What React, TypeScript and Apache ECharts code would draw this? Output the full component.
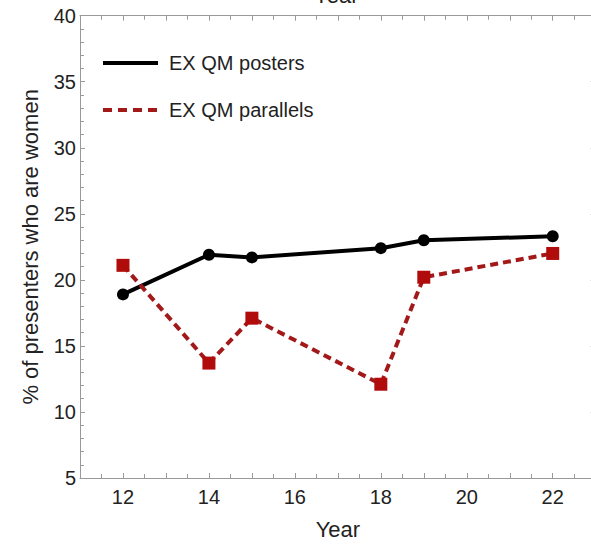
import React, { useEffect, useRef } from "react";
import * as echarts from "echarts";

const years = [12, 14, 15, 18, 19, 22];
const postersPct = [18.9, 21.9, 21.7, 22.4, 23.0, 23.3];
const parallelsPct = [21.1, 13.7, 17.1, 12.1, 20.2, 22.0];
const seriesNames = ["EX QM posters", "EX QM parallels"];
const xLabelYears = [12, 14, 16, 18, 20, 22];
const yTicks = [5, 10, 15, 20, 25, 30, 35, 40];

const AXIS_COLOR = "#9a9a9a";
const TEXT_COLOR = "#222";
const RED_LINE = "#a31818";
const RED_MARK = "#b00c0c";
const FONT = "Liberation Sans, Arial, sans-serif";

export default function App() {
  const ref = useRef<HTMLDivElement>(null);
  useEffect(() => {
    if (!ref.current) return;
    const chart = echarts.init(ref.current, undefined, { renderer: "svg" });
    const tickCommon = {
      axisLine: { show: true, lineStyle: { color: AXIS_COLOR, width: 1 } },
      splitLine: { show: false },
    };
    chart.setOption({
      animation: false,
      backgroundColor: "#fff",
      textStyle: { fontFamily: FONT },
      grid: { left: 80, right: 4.3, top: 15.7, bottom: 65, containLabel: false },
      xAxis: [
        {
          type: "value",
          position: "bottom",
          min: 11,
          max: 23,
          interval: 1,
          ...tickCommon,
          axisTick: { show: true, inside: true, length: 5, lineStyle: { color: AXIS_COLOR } },
          minorTick: { show: true, splitNumber: 2, length: 4, lineStyle: { color: AXIS_COLOR } },
          axisLabel: {
            show: true,
            margin: 9,
            fontSize: 20,
            color: TEXT_COLOR,
            fontFamily: FONT,
            formatter: (v: number) => (xLabelYears.includes(v) ? String(v) : ""),
          },
          name: "Year",
          nameLocation: "middle",
          nameGap: 40,
          nameTextStyle: { fontSize: 22, color: TEXT_COLOR, fontFamily: FONT },
        },
        {
          type: "value",
          position: "top",
          min: 11,
          max: 23,
          interval: 1,
          ...tickCommon,
          axisTick: { show: true, inside: true, length: 5, lineStyle: { color: AXIS_COLOR } },
          minorTick: { show: true, splitNumber: 2, length: 4, lineStyle: { color: AXIS_COLOR } },
          axisLabel: { show: false },
        },
      ],
      yAxis: [
        {
          type: "value",
          position: "left",
          min: 5,
          max: 40,
          interval: 5,
          ...tickCommon,
          axisTick: { show: true, inside: true, length: 5, lineStyle: { color: AXIS_COLOR } },
          minorTick: { show: true, splitNumber: 5, length: 4, lineStyle: { color: AXIS_COLOR } },
          axisLabel: {
            show: true,
            margin: 4,
            fontSize: 20,
            color: TEXT_COLOR,
            fontFamily: FONT,
            formatter: (v: number) => (yTicks.includes(v) ? String(v) : ""),
          },
          name: "% of presenters who are women",
          nameLocation: "middle",
          nameGap: 39,
          nameTextStyle: { fontSize: 22, color: TEXT_COLOR, fontFamily: FONT },
        },
        {
          type: "value",
          position: "right",
          min: 5,
          max: 40,
          interval: 5,
          ...tickCommon,
          axisTick: { show: true, inside: true, length: 5, lineStyle: { color: AXIS_COLOR } },
          minorTick: { show: true, splitNumber: 5, length: 4, lineStyle: { color: AXIS_COLOR } },
          axisLabel: { show: false },
        },
      ],
      graphic: [
        {
          type: "text",
          left: 314,
          top: -16,
          style: { text: "Year", fontSize: 22, fill: TEXT_COLOR, fontFamily: FONT },
        },
        {
          type: "line",
          shape: { x1: 103, y1: 63, x2: 158, y2: 63 },
          style: { stroke: "#000", lineWidth: 4 },
        },
        {
          type: "text",
          x: 169,
          y: 63,
          style: {
            text: seriesNames[0],
            fontSize: 20,
            fill: TEXT_COLOR,
            fontFamily: FONT,
            verticalAlign: "middle",
          },
        },
        {
          type: "line",
          shape: { x1: 103, y1: 110, x2: 158, y2: 110 },
          style: { stroke: RED_LINE, lineWidth: 4, lineDash: [9, 6] },
        },
        {
          type: "text",
          x: 169,
          y: 110,
          style: {
            text: seriesNames[1],
            fontSize: 20,
            fill: TEXT_COLOR,
            fontFamily: FONT,
            verticalAlign: "middle",
          },
        },
      ],
      series: [
        {
          name: seriesNames[0],
          type: "line",
          xAxisIndex: 0,
          yAxisIndex: 0,
          data: years.map((y, i) => [y, postersPct[i]]),
          symbol: "circle",
          symbolSize: 12,
          itemStyle: { color: "#000" },
          lineStyle: { color: "#000", width: 4 },
        },
        {
          name: seriesNames[1],
          type: "line",
          xAxisIndex: 0,
          yAxisIndex: 0,
          data: years.map((y, i) => [y, parallelsPct[i]]),
          symbol: "rect",
          symbolSize: 13,
          itemStyle: { color: RED_MARK },
          lineStyle: { color: RED_LINE, width: 4, type: [8, 5] },
        },
      ],
    });
    return () => chart.dispose();
  }, []);
  return (
    <div
      ref={ref}
      style={{ position: "fixed", left: 0, top: 0, width: 600, height: 545 }}
    />
  );
}
